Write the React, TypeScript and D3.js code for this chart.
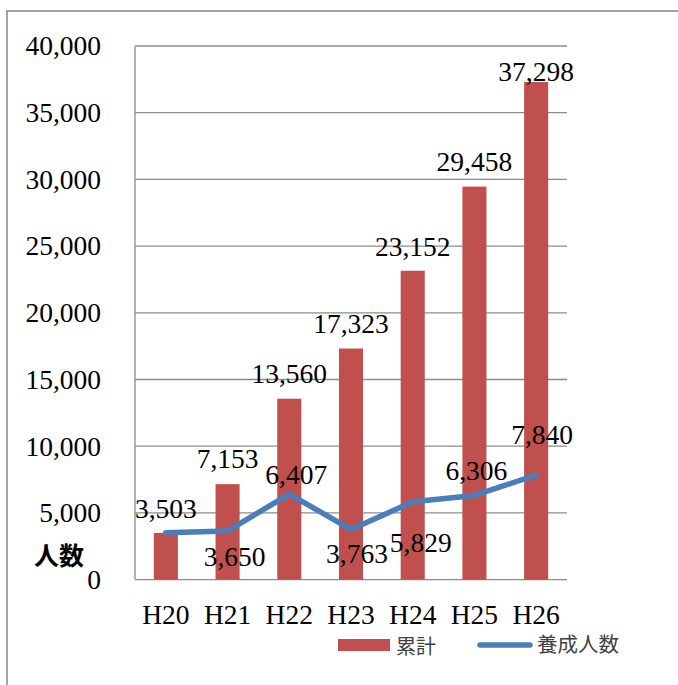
import React from "react";
import * as d3 from "d3";

const categories = ["H20", "H21", "H22", "H23", "H24", "H25", "H26"];
const cumulative = [3503, 7153, 13560, 17323, 23152, 29458, 37298];
const trained = [3503, 3650, 6407, 3763, 5829, 6306, 7840];
const yTicks = [0, 5000, 10000, 15000, 20000, 25000, 30000, 35000, 40000];
const seriesNames = ["累計", "養成人数"];

const W = 678;
const H = 685;
const margin = { left: 135, right: 111, top: 46, bottom: 105.4 };

// label placement tweaks (layout only)
const barLabelDy = [-24, -26, -25, -24.5, -24, -25, -25];
const lineLabelDx = [0, 7, 7, 6, 8, 2, 6];
const lineLabelDy = [-24, 26, -19, 24, 41, -25, -40];

const serif = "Liberation Serif, Times New Roman, serif";
const cjk = "Noto Sans CJK JP, sans-serif";

export default function App() {
  const x = d3
    .scaleBand<string>()
    .domain(categories)
    .range([margin.left, W - margin.right])
    .paddingInner(0)
    .paddingOuter(0);
  const y = d3.scaleLinear().domain([0, 40000]).range([H - margin.bottom, margin.top]);
  const fmt = d3.format(",");
  const bw = x.bandwidth();
  const barW = bw * 0.39;
  const cx = (c: string) => (x(c) as number) + bw / 2;

  const line = d3
    .line<number>()
    .x((_, i) => cx(categories[i]))
    .y((d) => y(d));

  const fs = 27.5;

  return (
    <svg
      width={W}
      height={H}
      style={{ position: "absolute", left: 0, top: 0, background: "#fff" }}
    >
      <rect x={0} y={0} width={W} height={H} fill="#fff" />
      <rect x={7} y={11} width={W + 20} height={H + 20} fill="none" stroke="#8c8c8c" strokeWidth={1.6} />

      {yTicks.map((t) => (
        <line
          key={"g" + t}
          x1={margin.left}
          x2={W - margin.right}
          y1={y(t)}
          y2={y(t)}
          stroke="#8c8c8c"
          strokeWidth={1.3}
        />
      ))}
      <line
        x1={margin.left}
        x2={margin.left}
        y1={y(0)}
        y2={y(40000)}
        stroke="#8c8c8c"
        strokeWidth={1.3}
      />

      {yTicks.map((t) => (
        <text
          key={"t" + t}
          x={101}
          y={y(t)}
          dy="0.34em"
          textAnchor="end"
          fontFamily={serif}
          fontSize={fs}
          fill="#000"
        >
          {fmt(t)}
        </text>
      ))}

      <text x={34} y={556} dy="0.36em" fontFamily={cjk} fontSize={25} fontWeight={700} fill="#000">
        人数
      </text>

      {categories.map((c) => (
        <text
          key={"x" + c}
          x={cx(c)}
          y={615}
          dy="0.34em"
          textAnchor="middle"
          fontFamily={serif}
          fontSize={fs}
          fill="#000"
        >
          {c}
        </text>
      ))}

      {cumulative.map((v, i) => (
        <rect
          key={"b" + i}
          x={cx(categories[i]) - barW / 2}
          y={y(v)}
          width={barW}
          height={y(0) - y(v)}
          fill="#C0504D"
        />
      ))}

      <path
        d={line(trained) as string}
        fill="none"
        stroke="#4A7EBB"
        strokeWidth={5.5}
        strokeLinejoin="round"
        strokeLinecap="round"
      />

      {cumulative.map((v, i) => (
        <text
          key={"bl" + i}
          x={cx(categories[i])}
          y={Math.max(y(v) + barLabelDy[i], 72)}
          dy="0.34em"
          textAnchor="middle"
          fontFamily={serif}
          fontSize={fs}
          fill="#000"
        >
          {fmt(v)}
        </text>
      ))}

      {trained.map((v, i) =>
        i === 0 ? null : (
          <text
            key={"ll" + i}
            x={cx(categories[i]) + lineLabelDx[i]}
            y={y(v) + lineLabelDy[i]}
            dy="0.34em"
            textAnchor="middle"
            fontFamily={serif}
            fontSize={fs}
            fill="#000"
          >
            {fmt(v)}
          </text>
        )
      )}

      {/* legend */}
      <rect x={338} y={639} width={52} height={12} fill="#C0504D" />
      <text x={396} y={647} dy="0.36em" fontFamily={cjk} fontSize={20} fill="#404040">
        {seriesNames[0]}
      </text>
      <line
        x1={480}
        x2={530}
        y1={645}
        y2={645}
        stroke="#4A7EBB"
        strokeWidth={5.5}
        strokeLinecap="round"
      />
      <text x={537} y={645} dy="0.36em" fontFamily={cjk} fontSize={20.5} fill="#404040">
        {seriesNames[1]}
      </text>
    </svg>
  );
}
